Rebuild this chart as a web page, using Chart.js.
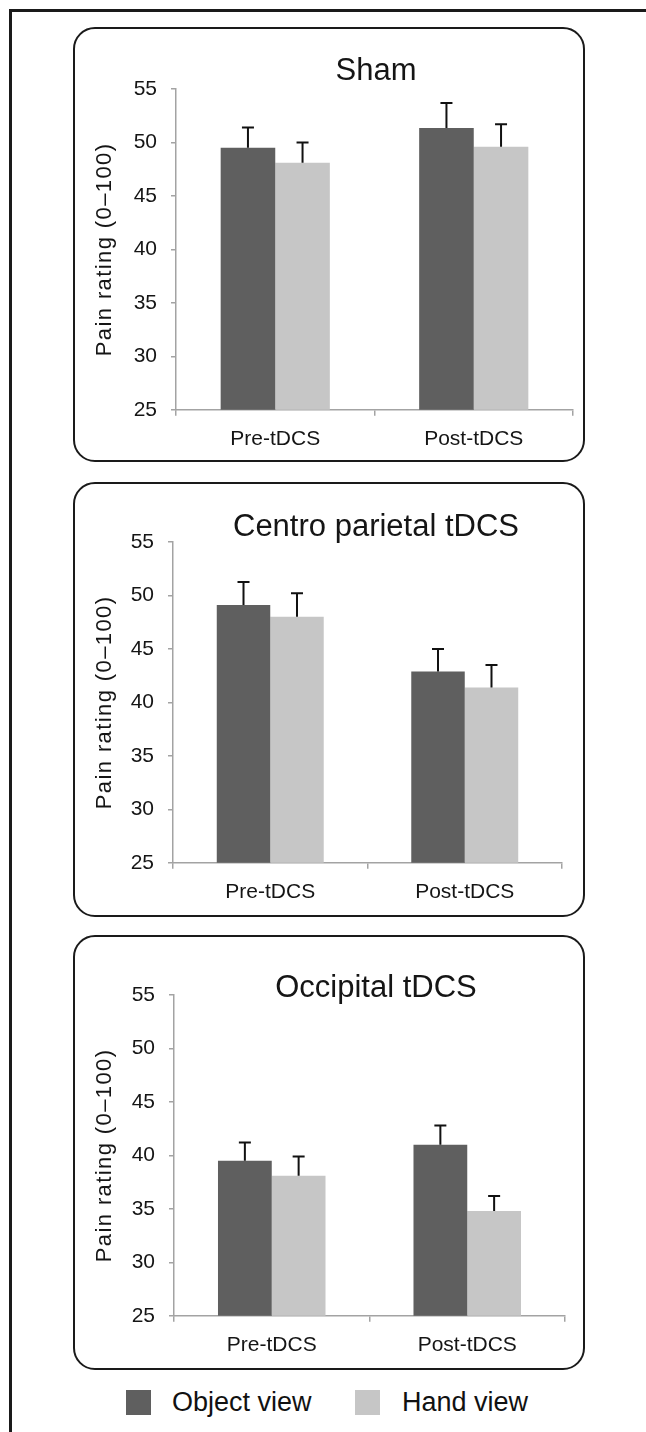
<!DOCTYPE html>
<html><head><meta charset="utf-8">
<script src="https://cdn.jsdelivr.net/npm/chart.js@4.4.1/dist/chart.umd.min.js"></script>
<style>
html,body{margin:0;padding:0;background:#fff;}
body{width:646px;height:1432px;position:relative;overflow:hidden;font-family:"Liberation Sans",Arial,sans-serif;}
#frame{position:absolute;left:9px;top:9px;width:700px;height:1500px;border-top:3px solid #1a1a1a;border-left:3px solid #1a1a1a;}
.box{position:absolute;box-sizing:border-box;border:2px solid #1a1a1a;border-radius:22px;}
.wrap{position:absolute;}
.sw{position:absolute;width:25px;height:25px;}
.lt{position:absolute;height:25px;line-height:25px;font-size:27px;color:#111;white-space:nowrap;}
</style></head><body>
<div id="frame"></div>
<div id="root"></div>
<script>
// ---- data ----
const categories = ['Pre-tDCS', 'Post-tDCS'];
const seriesNames = ['Object view', 'Hand view'];
const panelTitles = ['Sham', 'Centro parietal tDCS', 'Occipital tDCS'];
const yAxisTitle = 'Pain rating (0\u2013100)';
const yMin = 25, yMax = 55, yStep = 5;

const shamObject = [49.5, 51.35];
const shamHand = [48.1, 49.6];
const shamObjectErr = [1.9, 2.35];
const shamHandErr = [1.9, 2.1];

const centroObject = [49.1, 42.9];
const centroHand = [48.0, 41.4];
const centroObjectErr = [2.15, 2.1];
const centroHandErr = [2.2, 2.1];

const occipitalObject = [39.5, 41.0];
const occipitalHand = [38.1, 34.8];
const occipitalObjectErr = [1.7, 1.8];
const occipitalHandErr = [1.8, 1.4];

// ---- styling / layout ----
const FONT = '"Liberation Sans", Arial, sans-serif';
const colors = ['#5f5f5f', '#c6c6c6'];
const axisColor = '#a3a3a3';
const textColor = '#151515';

const panels = [
  { title: panelTitles[0], series: [shamObject, shamHand], errs: [shamObjectErr, shamHandErr],
    boxTop: 27, canvasTop: 29, titleGap: 2, yWidth: 103, padRight: 12, titleDx: 1.5 },
  { title: panelTitles[1], series: [centroObject, centroHand], errs: [centroObjectErr, centroHandErr],
    boxTop: 482, canvasTop: 482, titleGap: -1, yWidth: 100, padRight: 23, titleDx: 8.5 },
  { title: panelTitles[2], series: [occipitalObject, occipitalHand], errs: [occipitalObjectErr, occipitalHandErr],
    boxTop: 935, canvasTop: 935, titleGap: -9, yWidth: 101, padRight: 20, titleDx: 6.5 }
];

const errorBars = {
  id: 'errorBars',
  afterDatasetsDraw(chart, args, opts) {
    const ctx = chart.ctx;
    const ys = chart.scales.y;
    chart.data.datasets.forEach((ds, i) => {
      const meta = chart.getDatasetMeta(i);
      const errs = opts.errors[i];
      meta.data.forEach((bar, j) => {
        const top = ys.getPixelForValue(ds.data[j] + errs[j]);
        ctx.save();
        ctx.strokeStyle = '#111';
        ctx.lineWidth = 2;
        ctx.beginPath();
        ctx.moveTo(bar.x, bar.y);
        ctx.lineTo(bar.x, top);
        ctx.moveTo(bar.x - 6, top);
        ctx.lineTo(bar.x + 6, top);
        ctx.stroke();
        ctx.restore();
      });
    });
  }
};

// shift the (chart-area centred) title horizontally
const titleShift = {
  id: 'titleShift',
  afterLayout(chart, args, opts) {
    const t = chart.titleBlock;
    if (t) { t.left += opts.dx; t.right += opts.dx; }
  }
};

// slightly wider letter spacing for the y-axis title
const yTitleSpacing = {
  id: 'yTitleSpacing',
  beforeDraw(chart, args, opts) {
    const s = chart.scales.y;
    if (s && !s.__ls) {
      const orig = s.drawTitle;
      s.drawTitle = function () {
        const c = this.ctx;
        c.save();
        c.letterSpacing = opts.spacing;
        orig.call(this);
        c.restore();
      };
      s.__ls = true;
    }
  }
};

const root = document.getElementById('root');
panels.forEach((p) => {
  const box = document.createElement('div');
  box.className = 'box';
  Object.assign(box.style, { left: '73px', top: p.boxTop + 'px', width: '512px', height: '435px' });
  root.appendChild(box);

  const wrap = document.createElement('div');
  wrap.className = 'wrap';
  Object.assign(wrap.style, { left: '73px', top: p.canvasTop + 'px', width: '512px', height: '435px' });
  const cv = document.createElement('canvas');
  wrap.appendChild(cv);
  root.appendChild(wrap);

  const titleSize = 31;
  new Chart(cv, {
    type: 'bar',
    data: {
      labels: categories,
      datasets: p.series.map((s, i) => ({
        label: seriesNames[i],
        data: s,
        backgroundColor: colors[i],
        borderWidth: 0,
        barPercentage: 1,
        categoryPercentage: 0.55
      }))
    },
    options: {
      responsive: true,
      maintainAspectRatio: false,
      animation: false,
      layout: { padding: { left: 0, right: p.padRight, top: 60 - titleSize - p.titleGap, bottom: 1 } },
      plugins: {
        legend: { display: false },
        tooltip: { enabled: false },
        title: {
          display: true,
          text: p.title,
          fullSize: false,
          color: textColor,
          font: { family: FONT, size: titleSize, weight: 'normal', lineHeight: 1 },
          padding: { top: 0, bottom: p.titleGap }
        },
        errorBars: { errors: p.errs },
        titleShift: { dx: p.titleDx },
        yTitleSpacing: { spacing: '1.4px' }
      },
      scales: {
        x: {
          grid: { display: true, drawOnChartArea: false, drawTicks: true, tickLength: 6, color: axisColor, lineWidth: 1.5, offset: true },
          border: { display: true, color: axisColor, width: 1.5 },
          ticks: { color: textColor, padding: 11, font: { family: FONT, size: 21 } }
        },
        y: {
          min: yMin, max: yMax,
          afterFit: (s) => { s.width = p.yWidth; },
          grid: { display: true, drawOnChartArea: false, drawTicks: true, tickLength: 5, color: axisColor, lineWidth: 1.5 },
          border: { display: true, color: axisColor, width: 1.5 },
          ticks: { stepSize: yStep, color: textColor, padding: 14, font: { family: FONT, size: 21 } },
          title: { display: true, text: yAxisTitle, color: textColor, font: { family: FONT, size: 22, lineHeight: 1 }, padding: { top: 20.5, bottom: 0 } }
        }
      }
    },
    plugins: [errorBars, titleShift, yTitleSpacing]
  });
});

// legend (HTML, generated from series names/colours)
const legendPos = [{ sw: 126, tx: 172 }, { sw: 355, tx: 402 }];
seriesNames.forEach((name, i) => {
  const sw = document.createElement('div');
  sw.className = 'sw';
  Object.assign(sw.style, { left: legendPos[i].sw + 'px', top: '1390px', background: colors[i] });
  root.appendChild(sw);
  const t = document.createElement('div');
  t.className = 'lt';
  t.textContent = name;
  Object.assign(t.style, { left: legendPos[i].tx + 'px', top: '1390px' });
  root.appendChild(t);
});
</script>
</body></html>
